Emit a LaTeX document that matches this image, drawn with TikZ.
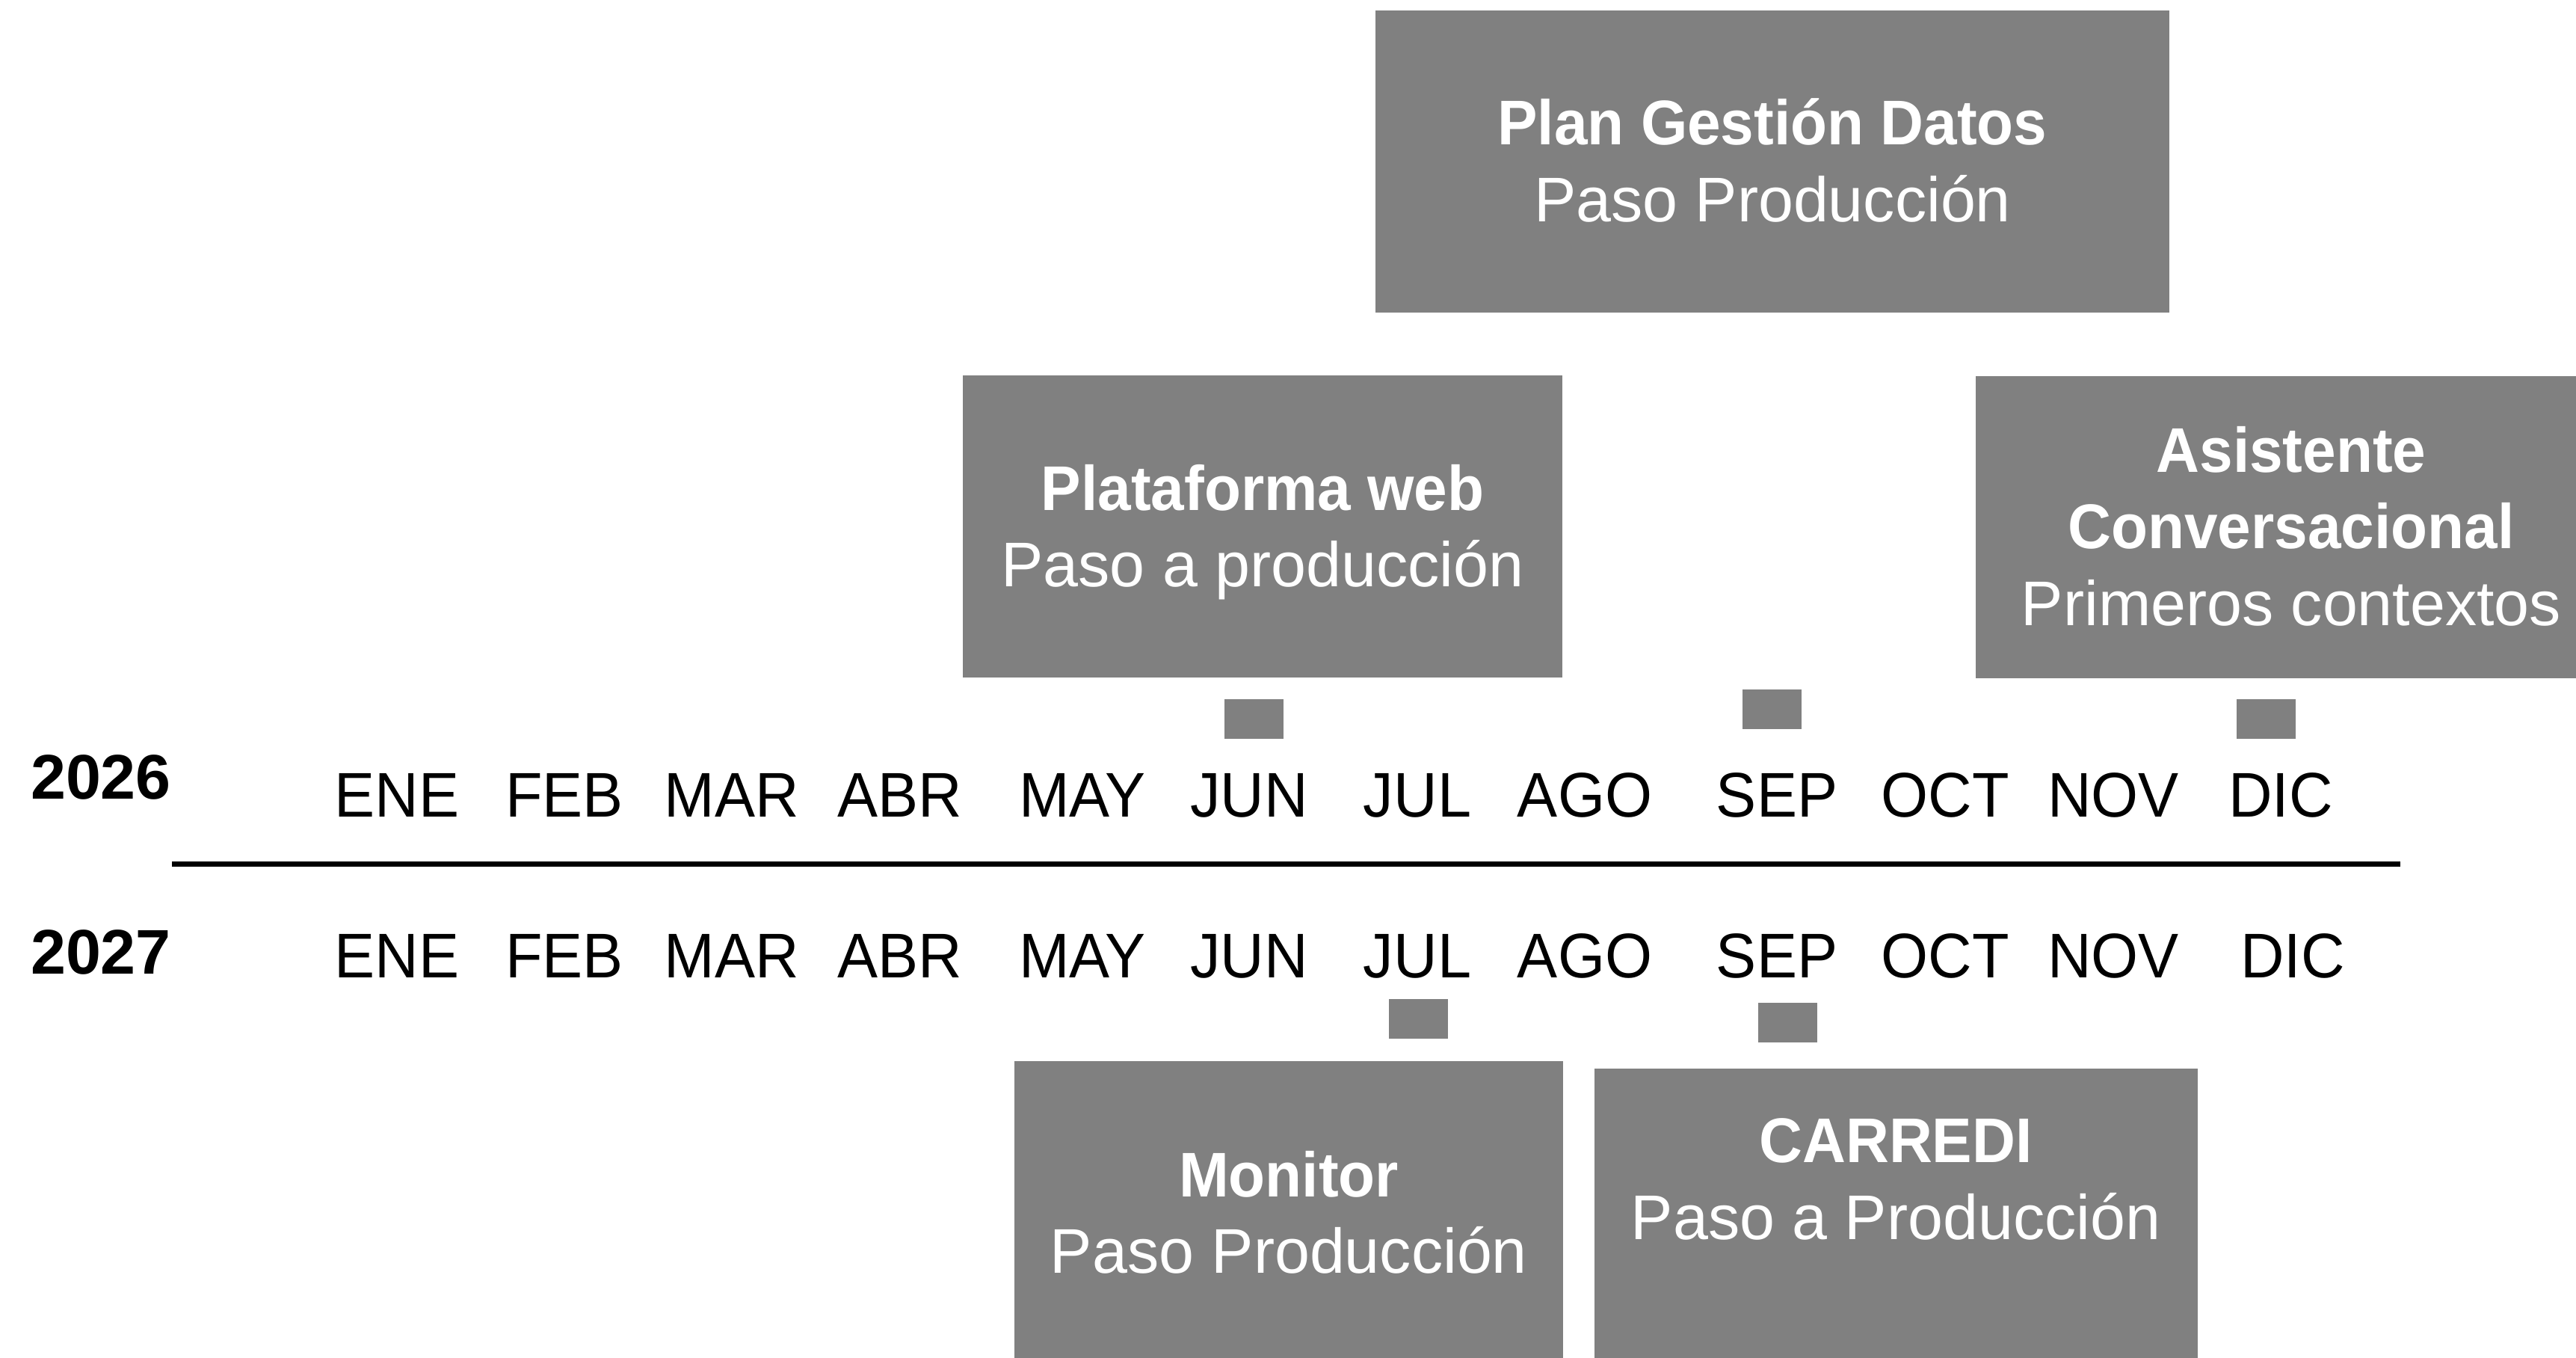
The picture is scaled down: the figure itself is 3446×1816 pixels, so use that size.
\documentclass[tikz,border=0pt]{standalone}
\usepackage{fontspec}
\setmainfont{Liberation Sans}
\newfontfamily\headfont{Liberation Sans}[UprightFont=*-Bold, FakeStretch=0.95]
\newfontfamily\monthfont{Liberation Sans}[FakeStretch=0.96]
\definecolor{boxgray}{RGB}{128,128,128}
\tikzset{
  box/.style={fill=boxgray, draw=none, inner sep=0pt, outer sep=0pt},
  boxtxt/.style={text=white, anchor=base, inner sep=0pt, font=\fontsize{24}{28}\selectfont},
  boxhead/.style={text=white, anchor=base, inner sep=0pt, font=\fontsize{24}{28}\headfont},
  month/.style={text=black, anchor=base, inner sep=0pt, font=\fontsize{24}{28}\monthfont},
  yearlbl/.style={text=black, anchor=base, inner sep=0pt, font=\fontsize{24}{28}\selectfont\bfseries},
  msq/.style={fill=boxgray, draw=none, inner sep=0pt, minimum width=0.79cm, minimum height=0.53cm},
  axisline/.style={line width=2pt, black}
}
\begin{document}
\begin{tikzpicture}[x=0.01cm, y=-0.01cm]
\useasboundingbox (0,0) rectangle (3446,1816);

% boxes
\node[box, minimum width=10.62cm, minimum height=4.04cm] (plan) at (2371,216) {};
\node[box, minimum width=8.02cm, minimum height=4.04cm] (web) at (1689,704) {};
\node[box, minimum width=8.44cm, minimum height=4.04cm] (asist) at (3065,705) {};
\node[box, minimum width=7.34cm, minimum height=4.03cm] (monitor) at (1724,1620.5) {};
\node[box, minimum width=8.07cm, minimum height=3.94cm] (carredi) at (2536.5,1626) {};

% box texts
\node[boxhead] (plan-a) at (2371,194) {Plan Gestión Datos};
\node[boxtxt] (plan-b) at (2371,297) {Paso Producción};
\node[boxhead] (web-a) at (1689,683) {Plataforma web};
\node[boxtxt] (web-b) at (1689,785) {Paso a producción};
\node[boxhead] (asist-a) at (3065,632) {Asistente};
\node[boxhead] (asist-b) at (3065,734) {Conversacional};
\node[boxtxt] (asist-c) at (3065,837) {Primeros contextos};
\node[boxhead] (monitor-a) at (1724,1600) {Monitor};
\node[boxtxt] (monitor-b) at (1724,1702) {Paso Producción};
\node[boxhead] (carredi-a) at (2536,1554) {CARREDI};
\node[boxtxt] (carredi-b) at (2536,1657) {Paso a Producción};

% small markers
\node[msq] (sq-jun26) at (1677.5,961.5) {};
\node[msq] (sq-sep26) at (2370.5,948.5) {};
\node[msq] (sq-dic26) at (3031.5,961.5) {};
\node[msq] (sq-jul27) at (1897,1362.5) {};
\node[msq] (sq-sep27) at (2391.5,1367.5) {};

% years
\node[yearlbl] (y2026) at (135,1068) {2026};
\node[yearlbl] (y2027) at (135,1302) {2027};

% months
\foreach \m/\x/\n in {ENE/531/1, FEB/755/2, MAR/979/3, ABR/1204/4, MAY/1448/5, JUN/1671/6, JUL/1896/7, AGO/2120/8, SEP/2377/9, OCT/2602/10, NOV/2827/11, DIC/3051/12}
  \node[month] (m26-\n) at (\x,1092) {\m};
\foreach \m/\x/\n in {ENE/531/1, FEB/755/2, MAR/979/3, ABR/1204/4, MAY/1448/5, JUN/1671/6, JUL/1896/7, AGO/2120/8, SEP/2377/9, OCT/2602/10, NOV/2827/11, DIC/3067/12}
  \node[month] (m27-\n) at (\x,1307) {\m};

% divider line
\coordinate (ls) at (230,1155.5);
\coordinate (le) at (3211,1155.5);
\draw[axisline] (ls) -- (le);
\end{tikzpicture}
\end{document}
